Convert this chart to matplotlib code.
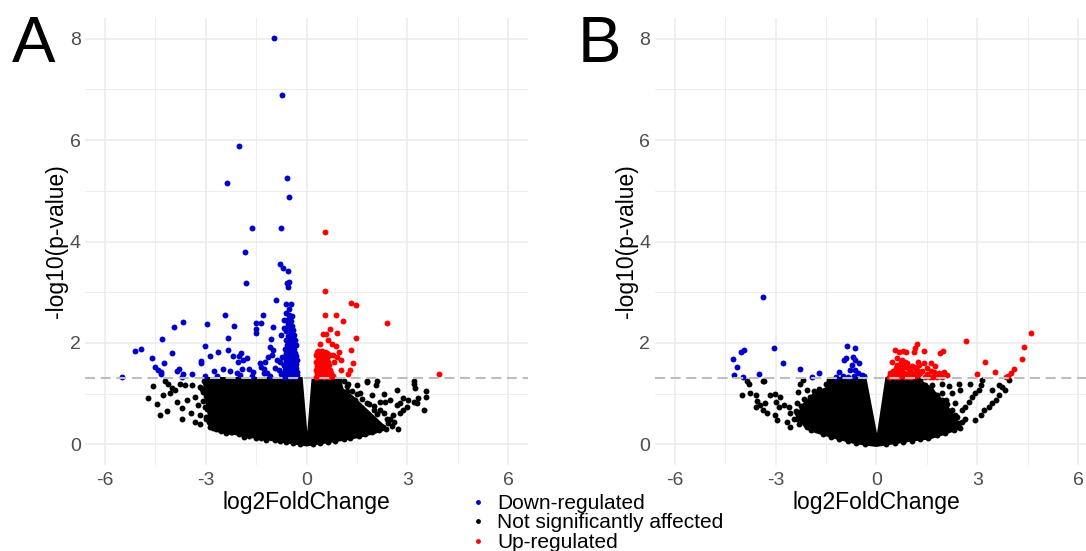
import matplotlib
matplotlib.use("Agg")
import matplotlib.pyplot as plt
from matplotlib.lines import Line2D

plt.rcParams['font.family'] = ['Liberation Sans', 'DejaVu Sans']
plt.rcParams['axes.unicode_minus'] = False

# colours used by the original figure
BLUE = '#0000CD'
RED = '#FF0000'
GRID = '#EBEBEB'

THRESHOLD = 1.30  # -log10(0.05)

# ---------------- panel A ----------------
# outline of the solid black core of the non-significant genes
a_core_x = [-3.10, -0.12, 0.02, 0.15, 1.00, 1.10, 1.40, 1.80, 2.20, 2.45, 2.00, 1.50, 1.00, 0.50, 0.00,
            -0.50, -1.00, -1.60, -2.10, -2.60, -2.85, -2.95, -3.05]
a_core_y = [1.33, 1.33, 0.25, 1.33, 1.33, 1.10, 0.95, 0.70, 0.45, 0.30, 0.20, 0.12, 0.06, 0.01, -0.04,
            0.01, 0.06, 0.12, 0.18, 0.23, 0.30, 0.60, 1.00]

a_ns_x = [-4.73, -4.58, -4.46, -4.36, -4.15, -4.21, -4.12, -4.00, -4.07, -3.92, -4.26, -3.87, -3.72, -3.72,
          -3.57, -3.44, -3.32, -3.17, -3.17, -3.62, -3.42, -3.77, -3.32, -3.22, -3.02, -3.00, -2.88, -2.78,
          -3.17, -3.07, -2.53, -2.23,
          1.24, 1.49, 1.79, 2.07, 2.68, 3.18, 3.23, 3.55, 3.55, 3.50, 3.30, 3.18, 3.28, 3.03, 2.88, 2.78,
          2.68, 2.98, 2.88, 2.78, 2.58, 2.48, 2.73, 2.43, 2.28, 2.18, 2.33, 2.48, 2.18, 1.94, 1.99, 1.79,
          1.59, 1.44, 1.39, 1.04, 0.99, 1.14, 1.79, 2.09, 3.18, 1.20, 1.60, 2.30,
          # points along the edge of the core
          -3.05, -3.12, -3.00, -3.08, -2.95, -2.98, -2.90, -2.85, -2.70, -2.55, -2.40, -2.25, -2.00,
          -1.85, -1.70, -1.50, -1.35, -1.20, -0.95, -0.80, -0.60, -0.40, -0.20,
          0.20, 0.40, 0.65, 0.85, 1.10, 1.30, 1.55, 1.75, 1.95, 2.15, 2.35, 2.55, 2.60, 2.40, 2.30,
          2.10, 2.00, 1.85, 1.65, 1.50, 1.35, 1.20, 1.10, 0.95]
a_ns_y = [0.92, 1.16, 0.80, 0.58, 0.66, 1.26, 1.20, 1.11, 1.01, 1.07, 0.97, 0.84, 0.71, 0.51,
          0.88, 0.61, 0.45, 0.40, 0.58, 1.17, 1.17, 1.20, 0.94, 0.78, 0.74, 0.51, 0.35, 0.32,
          1.14, 1.04, 0.28, 0.25,
          1.20, 1.17, 1.24, 1.17, 1.07, 1.19, 1.11, 1.05, 0.94, 0.68, 0.91, 0.84, 0.81, 0.88, 0.91, 0.81,
          0.78, 0.74, 0.68, 0.61, 0.58, 0.51, 0.30, 0.42, 0.35, 0.68, 0.84, 0.88, 0.84, 0.97, 0.68, 0.81,
          0.74, 0.88, 0.68, 0.97, 0.84, 0.78, 1.26, 1.26, 1.26, 1.05, 1.02, 1.00,
          1.25, 1.10, 0.95, 0.85, 0.70, 0.55, 0.45, 0.38, 0.30, 0.27, 0.22, 0.24, 0.20,
          0.15, 0.17, 0.12, 0.13, 0.09, 0.09, 0.06, 0.05, 0.03, 0.01,
          0.01, 0.03, 0.05, 0.07, 0.10, 0.12, 0.16, 0.20, 0.24, 0.28, 0.30, 0.36, 0.45, 0.50, 0.62,
          0.60, 0.75, 0.80, 0.90, 1.00, 1.05, 1.15, 1.25, 1.28]

a_down_x = [-0.97, -0.72, -2.02, -2.36, -0.57, -0.52, -1.63, -0.77, -1.83, -0.79, -0.71, -0.54, -1.80,
            -0.58, -0.51, -0.55, -0.91, -0.60, -0.48, -0.52, -2.44, -1.31, -3.68, -3.96, -2.96, -2.16,
            -1.52, -1.36, -1.51, -1.51, -0.99, -4.30, -2.33, -0.75, -1.07, -3.03, -5.12, -4.93, -4.00,
            -2.64, -2.34, -1.96, -2.00, -4.59, -2.87, -2.20, -1.78, -1.09, -1.01, -1.14, -1.04, -0.89,
            -0.79, -0.74, -4.24, -3.15, -3.15, -2.05, -1.90, -1.39, -1.24, -4.50, -4.43, -4.34, -4.34,
            -5.48, -3.85, -3.80, -3.67, -3.42, -3.71, -3.03, -2.76, -2.68, -2.50, -2.28, -2.08, -1.93,
            -1.98, -1.71, -1.59, -1.63, -1.37, -1.27, -1.28, -1.17, -1.09, -0.94, -0.81, -0.66, -0.76,
            -0.62, -0.50, -0.66, -0.56, -0.68,
            # dense column just left of zero
            -0.66, -0.58, -0.50, -0.42, -0.34, -0.29, -0.70, -0.61, -0.53, -0.45, -0.37, -0.30,
            -0.64, -0.56, -0.47, -0.39, -0.31, -0.68, -0.59, -0.50, -0.42, -0.33, -0.62, -0.53,
            -0.44, -0.36, -0.30, -0.66, -0.57, -0.48, -0.38, -0.31, -0.60, -0.51, -0.42, -0.34,
            -0.63, -0.55, -0.45, -0.37, -0.58, -0.49, -0.40, -0.33, -0.62, -0.52, -0.43, -0.36,
            -0.56, -0.46, -0.39, -0.60, -0.50, -0.42, -0.55, -0.45, -0.58, -0.48, -0.52, -0.44]
a_down_y = [8.02, 6.88, 5.89, 5.15, 5.25, 4.87, 4.26, 4.27, 3.80, 3.55, 3.47, 3.41, 3.18,
            3.18, 3.20, 3.11, 2.84, 2.77, 2.77, 2.68, 2.56, 2.56, 2.42, 2.32, 2.37, 2.33,
            2.40, 2.40, 2.27, 2.19, 2.32, 2.07, 2.10, 2.16, 2.07, 1.95, 1.84, 1.88, 1.80,
            1.83, 1.86, 1.80, 1.74, 1.70, 1.74, 1.74, 1.70, 1.92, 1.86, 1.73, 1.76, 1.66,
            1.63, 1.73, 1.61, 1.64, 1.60, 1.63, 1.66, 1.60, 1.63, 1.52, 1.47, 1.43, 1.39,
            1.33, 1.45, 1.48, 1.39, 1.39, 1.32, 1.34, 1.45, 1.35, 1.48, 1.45, 1.40, 1.48,
            1.37, 1.48, 1.43, 1.34, 1.52, 1.48, 1.40, 1.41, 1.35, 1.50, 1.47, 1.57, 1.39,
            2.60, 2.52, 2.45, 2.38, 2.30,
            1.33, 1.34, 1.32, 1.35, 1.33, 1.36, 1.40, 1.41, 1.39, 1.42, 1.40, 1.43,
            1.48, 1.47, 1.49, 1.48, 1.50, 1.56, 1.55, 1.57, 1.56, 1.58, 1.64, 1.63,
            1.65, 1.64, 1.66, 1.72, 1.71, 1.73, 1.72, 1.74, 1.80, 1.79, 1.81, 1.80,
            1.88, 1.87, 1.89, 1.88, 1.96, 1.95, 1.97, 1.96, 2.05, 2.04, 2.06, 2.05,
            2.14, 2.13, 2.15, 2.24, 2.23, 2.25, 2.34, 2.33, 2.45, 2.44, 2.55, 2.54]

a_up_x = [0.55, 0.56, 1.32, 1.46, 0.55, 0.88, 1.09, 2.38, 0.70, 0.50, 0.58, 0.90, 0.65, 0.75, 1.46,
          0.40, 0.87, 1.31, 0.97, 0.30, 0.45, 0.60, 0.78, 0.90, 1.01, 1.39, 1.29, 1.01, 1.24, 3.95,
          # dense cluster just right of zero
          0.27, 0.35, 0.43, 0.51, 0.59, 0.68, 0.77, 0.30, 0.38, 0.46, 0.55, 0.63, 0.72,
          0.27, 0.35, 0.43, 0.52, 0.60, 0.70, 0.31, 0.40, 0.48, 0.57, 0.66,
          0.28, 0.37, 0.46, 0.55, 0.64, 0.80, 0.33, 0.42, 0.52, 0.61, 0.29, 0.39, 0.48, 0.70,
          0.35, 0.45, 0.56]
a_up_y = [4.18, 3.03, 2.79, 2.74, 2.56, 2.55, 2.43, 2.39, 2.28, 2.17, 2.17, 2.20, 2.06, 1.98, 2.10,
          1.98, 1.95, 1.86, 1.82, 1.83, 1.80, 1.80, 1.76, 1.73, 1.66, 1.61, 1.47, 1.47, 1.39, 1.39,
          1.33, 1.32, 1.34, 1.33, 1.35, 1.32, 1.34, 1.40, 1.41, 1.39, 1.40, 1.42, 1.40,
          1.47, 1.48, 1.46, 1.47, 1.49, 1.47, 1.55, 1.54, 1.56, 1.55, 1.56,
          1.62, 1.63, 1.61, 1.62, 1.63, 1.62, 1.70, 1.69, 1.71, 1.70, 1.77, 1.76, 1.78, 1.77,
          1.84, 1.85, 1.83]

# ---------------- panel B ----------------
b_core_x = [-2.40, -2.20, -1.90, -1.45, -1.35, -0.30, 0.02, 0.27, 1.20, 1.60, 1.90, 2.20, 2.45, 2.50,
            2.00, 1.60, 1.00, 0.50, 0.00, -0.60, -1.20, -1.80, -2.10]
b_core_y = [0.55, 0.80, 1.00, 1.15, 1.33, 1.33, 0.22, 1.33, 1.33, 1.15, 0.95, 0.70, 0.45, 0.30,
            0.18, 0.10, 0.05, 0.00, -0.05, 0.00, 0.10, 0.22, 0.30]

b_ns_x = [-3.79, -3.34, -4.00, -3.76, -3.58, -3.54, -3.46, -3.58, -3.36, -3.26, -3.31, -3.16, -3.01,
          -2.98, -2.86, -2.91, -3.01, -2.96, -2.76, -2.61, -2.56, -2.66, -2.56, -2.36, -2.36, -2.36,
          -2.32, -2.27, -2.17, -2.07, -1.97, -1.77, -1.57, -1.37, -1.22, -3.85, -3.36,
          1.96, 2.16, 2.45, 2.50, 2.80, 3.10, 3.15, 3.05, 3.75, 3.84, 3.65, 3.55, 3.45, 3.35, 3.20,
          3.10, 2.95, 2.75, 2.65, 2.55, 2.35, 2.26, 2.16, 2.85, 2.95, 2.06, 1.86, 1.76, 2.26, 1.96,
          1.66, 2.35, 1.46, 1.66, 1.26, 1.56, 1.86, 1.46, 2.45, 2.65, 3.45, 3.65, 3.94,
          # points along the edge of the core
          -2.45, -2.40, -2.30, -2.25, -2.15, -2.05, -1.95, -1.85, -1.70, -1.60, -1.50, -1.40, -1.35,
          -1.10, -0.85, -0.60, -0.35,
          0.30, 0.55, 0.80, 1.05, 1.30, 1.55, 1.80, 2.05, 2.30, 2.50, 2.55, 2.40, 2.25, 2.10, 1.95,
          1.80, 1.62, 1.45, 1.30]
b_ns_y = [1.19, 1.26, 0.97, 1.01, 0.97, 0.86, 0.78, 0.74, 0.68, 0.61, 0.81, 0.97, 0.99,
          0.84, 0.94, 0.74, 0.58, 0.48, 0.78, 0.74, 0.61, 0.45, 0.35, 0.51, 0.61, 0.81,
          1.04, 1.20, 1.27, 1.07, 0.94, 1.01, 0.94, 1.01, 1.17, 1.25, 1.25,
          1.20, 1.15, 1.20, 1.07, 1.20, 1.17, 1.27, 1.07, 1.14, 1.07, 0.97, 0.88, 0.81, 0.74, 0.68,
          0.58, 0.48, 0.84, 0.74, 0.68, 0.58, 0.48, 0.38, 0.94, 1.01, 0.88, 0.74, 0.61, 1.01, 1.01,
          0.94, 0.81, 1.14, 1.17, 1.20, 0.42, 0.35, 0.28, 0.42, 0.51, 1.07, 1.17, 1.27,
          0.50, 0.65, 0.40, 0.75, 0.90, 0.35, 0.28, 1.05, 1.10, 0.20, 1.20, 1.27, 0.14,
          0.10, 0.06, 0.03, 0.01,
          0.01, 0.03, 0.05, 0.07, 0.10, 0.13, 0.18, 0.22, 0.28, 0.33, 0.45, 0.55, 0.68, 0.80, 0.88,
          0.98, 1.08, 1.18, 1.27]

b_down_x = [-3.38, -4.28, -4.15, -4.25, -4.03, -3.93, -3.97, -3.50, -3.05, -2.79, -2.27, -1.90, -1.70,
            -0.86, -0.63, -0.95, -0.90, -0.68, -0.63, -0.53, -0.72, -0.77, -0.63, -0.56, -0.83, -0.66,
            -0.43, -0.36, -1.10, -0.99, -1.21]
b_down_y = [2.91, 1.68, 1.53, 1.36, 1.82, 1.86, 1.32, 1.39, 1.91, 1.61, 1.48, 1.33, 1.40,
            1.94, 1.91, 1.66, 1.70, 1.73, 1.66, 1.61, 1.57, 1.47, 1.47, 1.40, 1.32, 1.35,
            1.36, 1.35, 1.43, 1.35, 1.32]

b_up_x = [2.68, 4.61, 4.40, 4.33, 3.22, 2.99, 3.52, 4.10, 4.00, 3.92, 3.85,
          1.21, 1.16, 1.41, 1.11, 0.55, 0.67, 0.78, 0.87, 1.97, 1.89, 0.47, 0.62, 0.77, 0.91, 0.81,
          0.72, 0.57, 0.42, 0.52, 0.66, 0.81, 0.96, 1.11, 1.21, 1.31, 1.41, 1.64, 1.76, 1.71, 1.86,
          2.01, 2.09, 1.81, 1.59, 0.37,
          0.40, 0.48, 0.56, 0.64, 0.73, 0.86, 1.02, 1.15, 1.45, 1.70, 1.95, 0.45, 0.53, 0.61, 0.70,
          0.78, 0.92, 1.08, 1.25, 1.52, 0.50, 0.60, 0.68, 0.76, 1.00, 1.18, 1.35, 1.62, 0.64, 0.74,
          0.95, 1.15, 1.50, 0.60, 0.70, 0.88, 1.05, 1.28, 0.72, 0.85, 1.25]
b_up_y = [2.03, 2.19, 1.93, 1.68, 1.63, 1.39, 1.43, 1.48, 1.41, 1.35, 1.32,
          1.98, 1.91, 1.84, 1.83, 1.86, 1.83, 1.84, 1.82, 1.85, 1.81, 1.63, 1.70, 1.66, 1.60, 1.52,
          1.47, 1.50, 1.40, 1.37, 1.35, 1.40, 1.32, 1.52, 1.47, 1.40, 1.60, 1.60, 1.55, 1.43, 1.41,
          1.43, 1.37, 1.32, 1.32, 1.32,
          1.33, 1.34, 1.32, 1.33, 1.34, 1.33, 1.32, 1.34, 1.33, 1.32, 1.33, 1.38, 1.39, 1.38, 1.37,
          1.38, 1.39, 1.38, 1.37, 1.38, 1.44, 1.45, 1.43, 1.44, 1.44, 1.45, 1.44, 1.45, 1.50, 1.51,
          1.50, 1.50, 1.51, 1.56, 1.57, 1.56, 1.55, 1.56, 1.63, 1.62, 1.63]

x_ticks = [-6, -3, 0, 3, 6]
y_ticks = [0, 2, 4, 6, 8]
legend_labels = ['Down-regulated', 'Not significantly affected', 'Up-regulated']

POINT = 18


def draw_panel(ax, core_x, core_y, ns_x, ns_y, dn_x, dn_y, up_x, up_y):
	ax.set_xlim(-6.6, 6.6)
	ax.set_ylim(-0.4, 8.4)
	ax.set_xticks(x_ticks)
	ax.set_yticks(y_ticks)
	ax.set_xticks([-4.5, -1.5, 1.5, 4.5], minor=True)
	ax.set_yticks([1, 3, 5, 7], minor=True)
	ax.grid(True, which='major', color=GRID, lw=1.1)
	ax.grid(True, which='minor', color=GRID, lw=0.6)
	ax.set_axisbelow(True)
	for s in ax.spines.values():
		s.set_visible(False)
	ax.tick_params(which='both', length=0, labelsize=14, labelcolor='#4D4D4D')
	ax.tick_params(axis='x', pad=5)
	ax.tick_params(axis='y', pad=3)

	ax.fill(core_x, core_y, color='black', lw=0, zorder=2)
	ax.scatter(ns_x, ns_y, s=POINT, c='black', lw=0, zorder=3)
	ax.scatter(dn_x, dn_y, s=POINT, c=BLUE, lw=0, zorder=4)
	ax.scatter(up_x, up_y, s=POINT, c=RED, lw=0, zorder=4)
	ax.axhline(THRESHOLD, color='#BEBEBE', lw=1.5, dashes=(4.8, 2.7), zorder=5)

	ax.set_xlabel('log2FoldChange', fontsize=16.5, labelpad=2)
	ax.set_ylabel('-log10(p-value)', fontsize=16.5, labelpad=1)


def main():
	fig = plt.figure(figsize=(10.86, 5.51), dpi=100)
	ax_a = fig.add_axes([0.0781, 0.1566, 0.4085, 0.8100])
	ax_b = fig.add_axes([0.6027, 0.1566, 0.4085, 0.8100])

	draw_panel(ax_a, a_core_x, a_core_y, a_ns_x, a_ns_y, a_down_x, a_down_y, a_up_x, a_up_y)
	draw_panel(ax_b, b_core_x, b_core_y, b_ns_x, b_ns_y, b_down_x, b_down_y, b_up_x, b_up_y)

	fig.text(12 / 1086, 1 - 62.5 / 551, 'A', fontsize=47, va='baseline', ha='left')
	fig.text(578 / 1086, 1 - 62.5 / 551, 'B', fontsize=47, va='baseline', ha='left')

	handles = [Line2D([], [], ls='', marker='o', ms=3.5, mew=0, color=c) for c in (BLUE, 'black', RED)]
	fig.legend(handles, legend_labels, loc='upper left', bbox_to_anchor=(471 / 1086, 1 - 494 / 551),
	           frameon=False, fontsize=15, handlelength=0.7, handletextpad=0.55,
	           labelspacing=0.02, borderpad=0, borderaxespad=0)

	fig.savefig('out.png', dpi=100)


if __name__ == '__main__':
	main()
